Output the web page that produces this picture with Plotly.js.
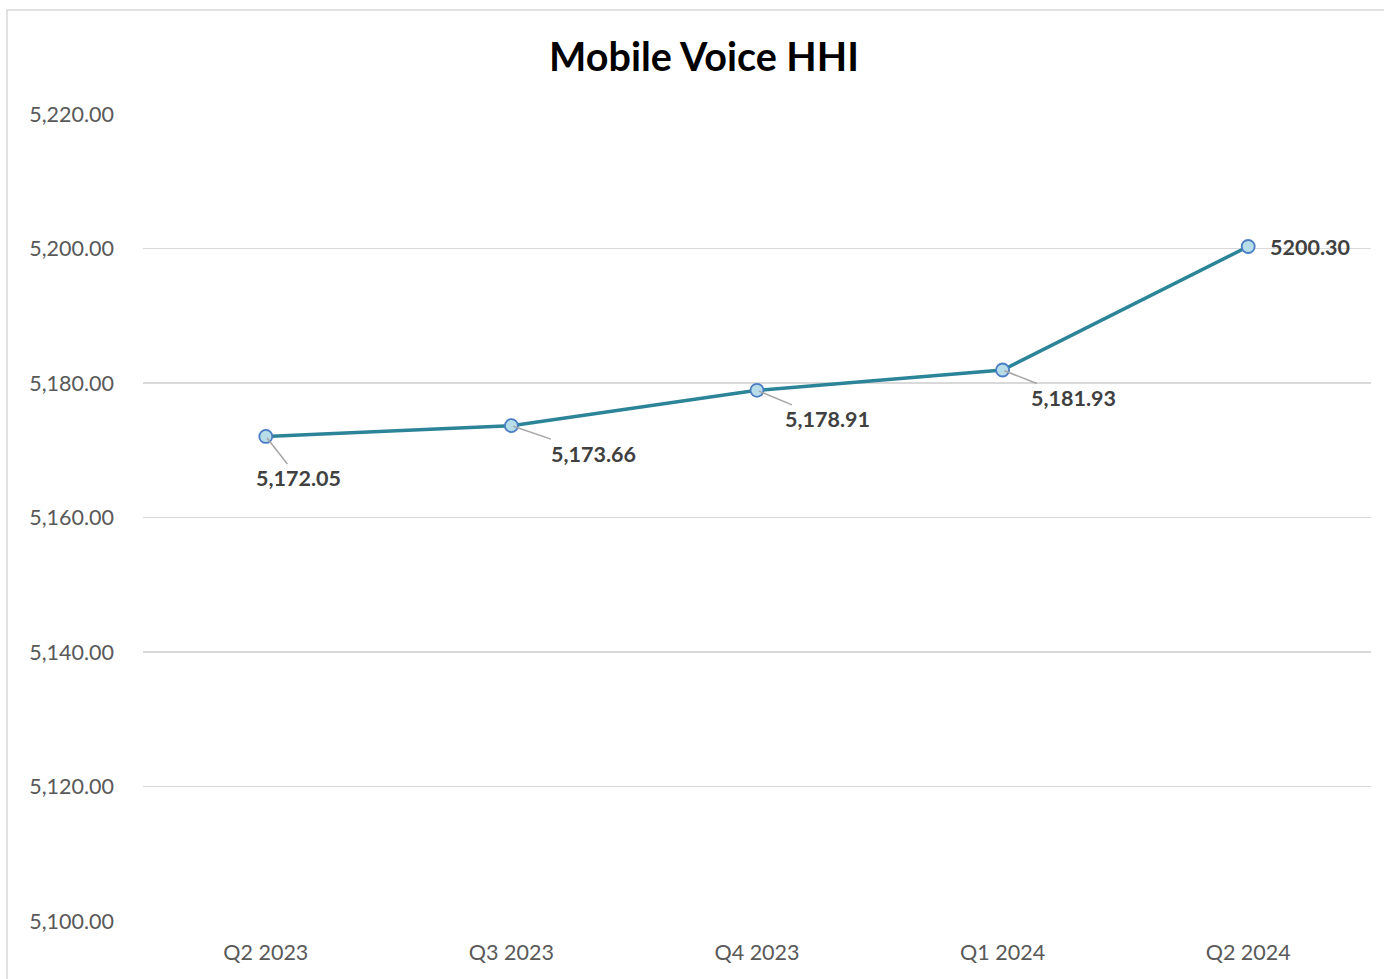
<!DOCTYPE html>
<html>
<head>
<meta charset="utf-8">
<script src="https://cdn.plot.ly/plotly-3.0.1.min.js"></script>
<style>html,body{margin:0;padding:0;background:#fff;}#chart{width:1384px;height:979px;}</style>
</head>
<body>
<div id="chart"></div>
<script>
const categories = ["Q2 2023", "Q3 2023", "Q4 2023", "Q1 2024", "Q2 2024"];
const hhiValues = [5172.05, 5173.66, 5178.91, 5181.93, 5200.30];
const labelTexts = ["5,172.05", "5,173.66", "5,178.91", "5,181.93", "5200.30"];
const labelOffsetsX = [33, 82, 70, 71, 62];
const labelOffsetsY = [42, 28, 29, 28, 1];
const labelArrows = [true, true, true, true, false];

const trace = {
  type: "scatter",
  mode: "lines+markers",
  x: categories,
  y: hhiValues,
  line: {color: "#2B8497", width: 3.5},
  marker: {size: 13, color: "#B7DDE8", line: {color: "#4A7DC4", width: 1.8}},
  hoverinfo: "skip"
};

const annotations = categories.map((c, i) => ({
  x: c, y: hhiValues[i], xref: "x", yref: "y",
  text: labelTexts[i],
  showarrow: true,
  arrowhead: 0, arrowwidth: 1.5,
  arrowcolor: labelArrows[i] ? "#A6A6A6" : "rgba(0,0,0,0)",
  ax: labelOffsetsX[i], ay: labelOffsetsY[i],
  standoff: 2,
  font: {family: "Lato, 'Open Sans', sans-serif", size: 21.5, color: "#404040", weight: "bold"}
}));

const layout = {
  width: 1384, height: 979,
  margin: {l: 143, r: 13, t: 114, b: 58},
  paper_bgcolor: "#fff", plot_bgcolor: "#fff",
  showlegend: false,
  font: {family: "Lato, 'Open Sans', sans-serif", color: "#595959", size: 21.5},
  title: {
    text: "<b>Mobile Voice HHI</b>",
    font: {family: "Lato, 'Open Sans', sans-serif", size: 39.5, color: "#000"},
    xref: "container", x: 704/1384, xanchor: "center",
    yref: "container", y: 1 - 57/979, yanchor: "middle"
  },
  xaxis: {
    type: "category", range: [-0.5, 4.5],
    showgrid: false, zeroline: false, showline: false, ticks: "",
    ticklabelstandoff: 16,
    tickfont: {size: 21.5, color: "#595959"}
  },
  yaxis: {
    range: [5100, 5220], dtick: 20, tick0: 5100,
    tickformat: ",.2f",
    showgrid: true, gridcolor: "#D9D9D9", gridwidth: 1.5,
    zeroline: false, showline: false, ticks: "",
    ticklabelstandoff: 28,
    tickfont: {size: 21.5, color: "#595959"}
  },
  annotations: annotations,
  shapes: [{
    type: "rect", xref: "paper", yref: "paper",
    x0: (7-143)/1228, x1: 1.05, y0: -0.1, y1: (921-10)/807,
    line: {color: "#D9D9D9", width: 1.5}, fillcolor: "rgba(0,0,0,0)", layer: "below"
  }]
};

Plotly.newPlot("chart", [trace], layout, {displayModeBar: false, staticPlot: true});
</script>
</body>
</html>
